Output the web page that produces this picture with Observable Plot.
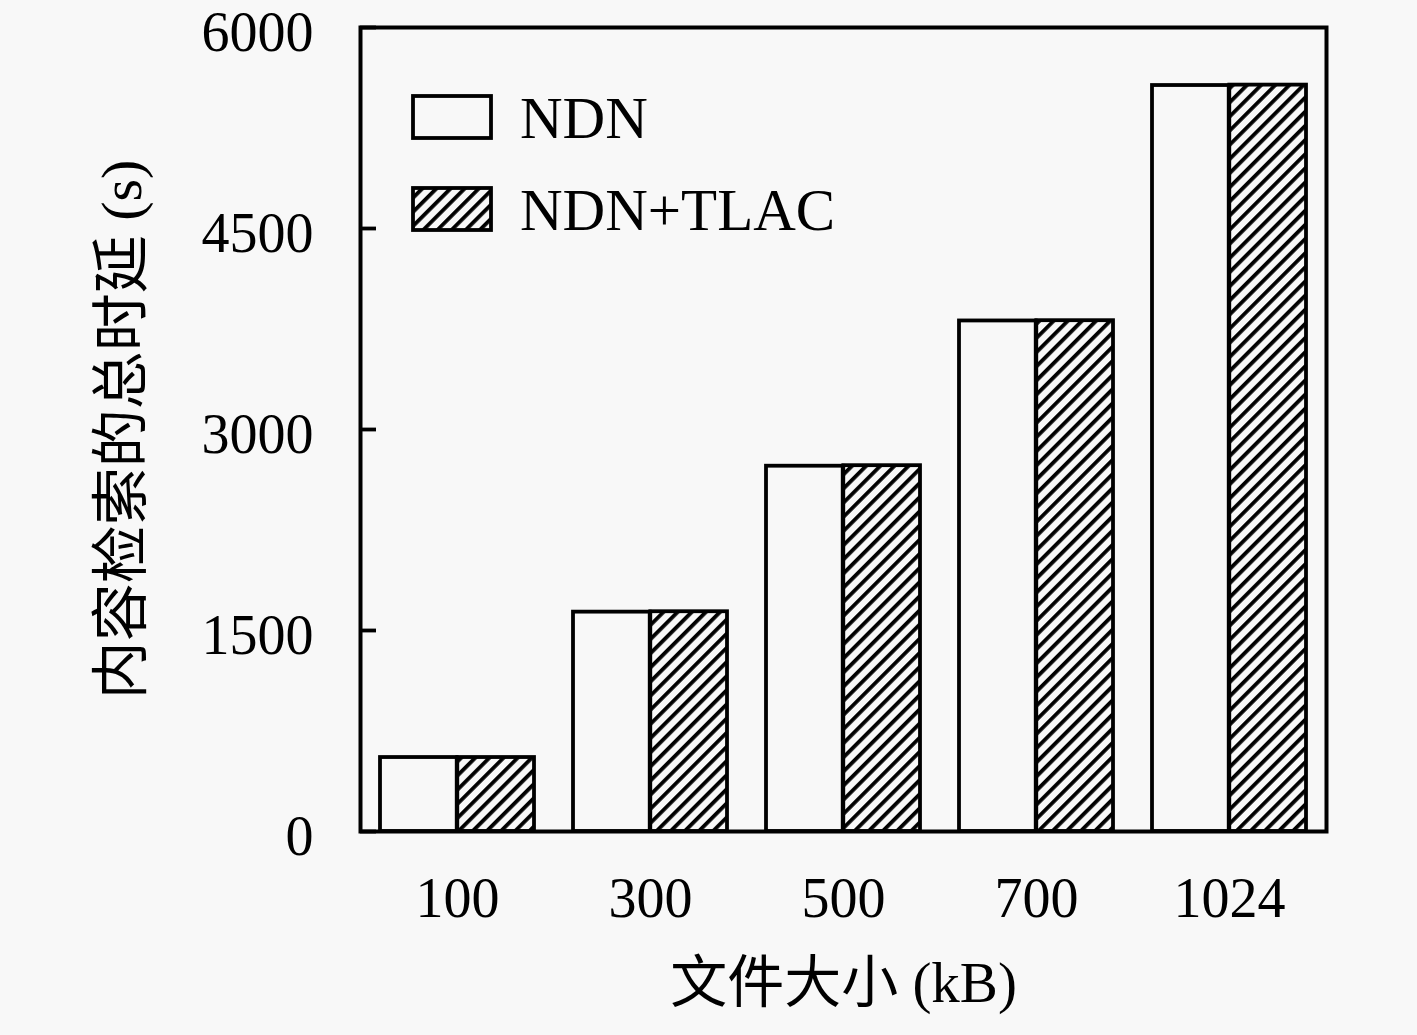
<!DOCTYPE html>
<html><head><meta charset="utf-8">
<script src="https://cdn.jsdelivr.net/npm/d3@7"></script>
<script src="https://cdn.jsdelivr.net/npm/@observablehq/plot@0.6"></script>
<style>
body{margin:0;background:#f8f8f8;}
#wrap{position:relative;width:1417px;height:1035px;}
</style></head><body><div id="wrap"></div>
<script>
const sizes = ["100", "300", "500", "700", "1024"];
const ndn = [552, 1637, 2726, 3810, 5567];
const ndnTlac = [552, 1640, 2730, 3812, 5570];
const yTicks = [0, 1500, 3000, 4500, 6000];
const seriesNames = ["NDN", "NDN+TLAC"];
const xTitle = "文件大小 (kB)";
const yTitle = "内容检索的总时延 (s)";

const rows = sizes.flatMap((s, i) => [
  {size: s, series: seriesNames[0], value: ndn[i]},
  {size: s, series: seriesNames[1], value: ndnTlac[i]}
]);

const W = 1417, H = 1035;
const mL = 360, mR = 91, mT = 27, mB = 204;
const pInner = 0.2, pOuter = 0.1;
const step = (W - mL - mR) / (sizes.length - pInner + 2 * pOuter);
const half = step * (1 - pInner) / 2;
const bg = "#f8f8f8";
const font = "'Liberation Serif', 'Noto Sans CJK SC', serif";

const chart = Plot.plot({
  width: W, height: H,
  marginLeft: mL, marginRight: mR, marginTop: mT, marginBottom: mB,
  style: {fontFamily: font, background: bg, color: "black"},
  x: {domain: sizes, paddingInner: pInner, paddingOuter: pOuter},
  y: {domain: [0, 6000]},
  marks: [
    Plot.barY(rows.filter(d => d.series === seriesNames[0]), {x: "size", y: "value", fill: bg, stroke: "black", strokeWidth: 3.8, insetRight: half}),
    Plot.barY(rows.filter(d => d.series === seriesNames[1]), {x: "size", y: "value", fill: "url(#hatch)", stroke: "black", strokeWidth: 3.8, insetLeft: half}),
    Plot.frame({stroke: "black", strokeWidth: 4}),
    Plot.axisY({ticks: yTicks, tickSize: -16, strokeWidth: 3.8, tickFormat: () => "", label: null}),
    Plot.axisY({ticks: yTicks, tickSize: 0, tickPadding: 47, dy: 6, fontSize: 56, tickFormat: d => String(d), label: null}),
    Plot.axisX({tickSize: 0, tickPadding: 46, fontSize: 56, label: null}),
    Plot.text([xTitle], {frameAnchor: "bottom", dy: 170, fontSize: 57, fill: "black"}),
    Plot.text([yTitle], {frameAnchor: "left", textAnchor: "middle", dx: -238, rotate: -90, fontSize: 58, fill: "black"})
  ]
});

const svg = d3.select(chart);
const defs = svg.insert("defs", ":first-child");
const pw = 10;
const pat = defs.append("pattern").attr("id", "hatch").attr("patternUnits", "userSpaceOnUse")
  .attr("width", pw).attr("height", pw).attr("patternTransform", "rotate(45)");
pat.append("rect").attr("width", pw).attr("height", pw).attr("fill", bg);
pat.append("rect").attr("x", 0).attr("width", 3.8).attr("height", pw).attr("fill", "black");

// legend
const lg = svg.append("g").attr("font-family", font).attr("font-size", 59).attr("text-anchor", "start");
seriesNames.forEach((name, i) => {
  const y0 = 96 + i * 92;
  lg.append("rect").attr("x", 413).attr("y", y0).attr("width", 78).attr("height", 42)
    .attr("fill", i === 0 ? bg : "url(#hatch)").attr("stroke", "black").attr("stroke-width", 3.8);
  lg.append("text").attr("x", 520).attr("y", y0 + 42).attr("fill", "black").attr("text-anchor", "start").text(name);
});

document.getElementById("wrap").appendChild(chart);
</script>
</body></html>
